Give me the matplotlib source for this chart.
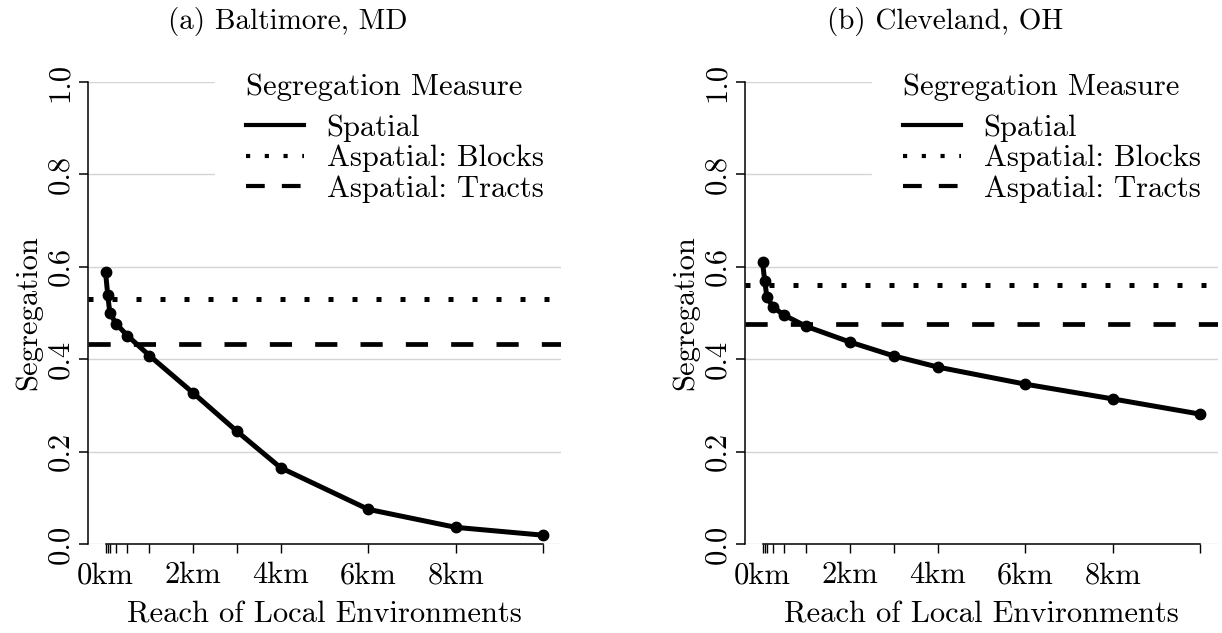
import matplotlib
matplotlib.use("Agg")
import matplotlib.pyplot as plt
from matplotlib.lines import Line2D

# Datos
reach_km = [0.0, 0.05, 0.1, 0.25, 0.5, 1, 2, 3, 4, 6, 8, 10]
xtick_vals = [0, 2, 4, 6, 8]
xtick_labels = ["0km", "2km", "4km", "6km", "8km"]
ytick_vals = [0.0, 0.2, 0.4, 0.6, 0.8, 1.0]
ytick_labels = ["0.0", "0.2", "0.4", "0.6", "0.8", "1.0"]

titles = ["(a) Baltimore, MD", "(b) Cleveland, OH"]
spatial = [
    [0.589, 0.540, 0.499, 0.476, 0.451, 0.408, 0.327, 0.244, 0.165, 0.075, 0.036, 0.019],
    [0.610, 0.570, 0.534, 0.512, 0.495, 0.471, 0.437, 0.407, 0.383, 0.346, 0.314, 0.281],
]
blocks = [0.531, 0.560]
tracts = [0.432, 0.476]
legend_labels = ["Spatial", "Aspatial: Blocks", "Aspatial: Tracts"]

plt.rcParams["font.family"] = ["cmr10", "DejaVu Serif"]
plt.rcParams["axes.formatter.use_mathtext"] = True
plt.rcParams["mathtext.fontset"] = "cm"

FS = 22
dotted = (0, (1, 3.8))
dashed = (0, (4.7, 4.9))

fig = plt.figure(figsize=(12.22, 6.33), dpi=100)

W, H = 1222, 633
ax_left_px = [88, 745]
ax_w_px = 473
y0_px, y1_px = 544, 82

for k in range(2):
    ax = fig.add_axes([ax_left_px[k] / W, (H - y0_px) / H,
                       ax_w_px / W, (y0_px - y1_px) / H])
    ax.set_xlim(-0.4, 10.4)
    ax.set_ylim(0, 1)

    for yv in ytick_vals:
        ax.axhline(yv, color="#d4d4d4", lw=1.0, zorder=0)

    ax.axhline(blocks[k], color="black", lw=3.6, linestyle=dotted,
               dash_capstyle="butt", zorder=2)
    ax.axhline(tracts[k], color="black", lw=3.4, linestyle=dashed,
               dash_capstyle="butt", zorder=2)
    ax.plot(reach_km, spatial[k], color="black", lw=3.6, marker="o",
            markersize=7.5, zorder=3, clip_on=False)

    for s in ["top", "right"]:
        ax.spines[s].set_visible(False)
    ax.spines["left"].set_bounds(0, 1)
    ax.spines["bottom"].set_bounds(reach_km[0], reach_km[-1])
    for s in ["left", "bottom"]:
        ax.spines[s].set_linewidth(1.1)
        ax.spines[s].set_zorder(4)

    ax.set_yticks(ytick_vals)
    ax.set_yticklabels(ytick_labels, rotation=90, va="center", fontsize=FS)
    ax.tick_params(axis="y", length=6.2, width=1.1, pad=4)

    # ticks en cada punto, etiquetas solo en 0,2,4,6,8
    ax.xaxis.remove_overlapping_locs = False
    ax.set_xticks(xtick_vals)
    ax.set_xticklabels(xtick_labels, fontsize=FS)
    ax.tick_params(axis="x", which="major", length=0, pad=13)
    ax.set_xticks(reach_km, minor=True)
    ax.tick_params(axis="x", which="minor", length=6.2, width=1.0)

    ax.set_ylabel("Segregation", fontsize=FS, labelpad=3)
    ax.set_xlabel("Reach of Local Environments", fontsize=FS, labelpad=8)

    handles = [
        Line2D([], [], color="black", lw=3.0),
        Line2D([], [], color="black", lw=3.0, linestyle=(0, (1, 3.5)), dash_capstyle="butt"),
        Line2D([], [], color="black", lw=3.0, linestyle=(0, (4.5, 4.1)), dash_capstyle="butt"),
    ]
    leg = ax.legend(handles, legend_labels, title="Segregation Measure",
                    loc="upper left",
                    bbox_to_anchor=((ax_left_px[k] + 127) / W, 1 - 43 / H),
                    bbox_transform=fig.transFigure,
                    fontsize=FS, title_fontsize=FS, frameon=True,
                    facecolor="white", edgecolor="white", framealpha=1,
                    fancybox=False, handlelength=1.9, handletextpad=0.75,
                    labelspacing=0.1, borderpad=1.0, borderaxespad=0,
                    alignment="left")
    leg._legend_box.sep = 9.5  # mas aire entre titulo y entradas
    leg.set_zorder(5)

    fig.text((ax_left_px[k] + 200) / W, 1 - 22 / H, titles[k],
             ha="center", va="center", fontsize=FS - 1)

fig.savefig("out.png", dpi=100)
